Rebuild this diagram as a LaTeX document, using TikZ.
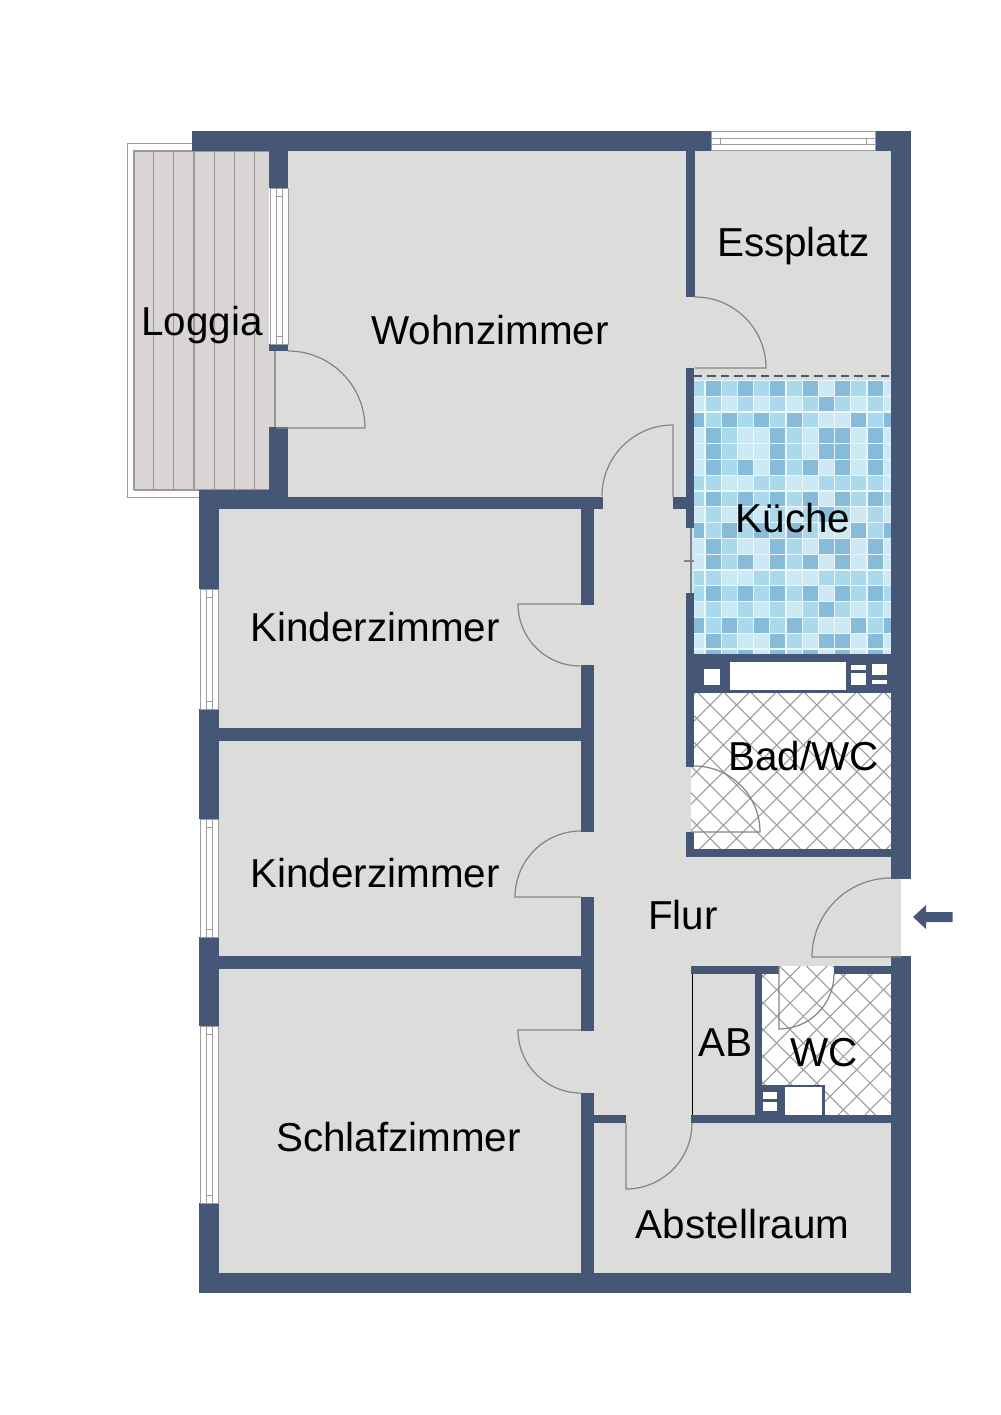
\documentclass[tikz,border=0pt]{standalone}
\usepackage{fontspec}
\setmainfont{Liberation Sans}
\usepackage{xcolor}
\usepackage{tikz}
\definecolor{wallblue}{HTML}{465676}
\definecolor{floorgray}{HTML}{DCDCDA}
\definecolor{deckgray}{HTML}{DAD5D5}
\definecolor{plankgray}{HTML}{9C9696}
\definecolor{doorgray}{HTML}{858585}
\definecolor{hatchgray}{HTML}{9A9A9A}
\definecolor{tileD}{HTML}{86BCD9}
\definecolor{tileM}{HTML}{ABD9EC}
\definecolor{tileL}{HTML}{CDE9F3}
\tikzset{
  wall/.style = {fill = wallblue},
  floorzone/.style = {fill = floorgray},
  door/.style = {draw = doorgray, line width = 0.7pt},
  frameline/.style = {draw = doorgray!80, line width = 0.45pt},
  hatch/.style = {draw = hatchgray, line width = 0.6pt},
  room/.style = {font = \fontsize{23}{27}\selectfont, anchor = base, inner sep = 0pt, text = black}
}

\begin{document}
\begin{tikzpicture}[x = 0.02cm, y = -0.02cm]
\useasboundingbox (0, 0) rectangle (1000, 1415);
\draw [frameline, fill = white] (192, 143) -- (127, 143) -- (127, 497) -- (199, 497);
\fill [deckgray] (134, 151) rectangle (269, 490);
\fill [deckgray] (269, 351) rectangle (276, 427);
\draw [plankgray, line width = 0.6pt] (134, 490) -- (134, 151) -- (269, 151);
\draw [plankgray, line width = 0.6pt] (134, 490) -- (269, 490);
\draw [plankgray, line width = 0.8pt] (275, 351) -- (275, 427);
\foreach \px in {153.5, 173.5, 194, 214.5, 234.5, 254.5}
  \draw [plankgray, line width = 0.7pt] (\px, 151) -- (\px, 490);
\fill [floorzone] (288, 151) rectangle (891, 509);
\fill [floorzone] (218, 509) rectangle (891, 1273);
\fill [floorzone] (276, 351) rectangle (288, 427);
\fill [floorzone] (891, 879) rectangle (901, 956);
\begin{scope}
\clip (694, 380) rectangle (891, 654);
\fill [tileL!35!white] (688, 380) rectangle (891, 654);
\foreach \rowpat [count = \ry from 0] in {
  {M,D,M,D,M,D,M,D,L,D,M,D,L},
  {L,M,L,M,L,M,L,M,D,M,L,M,L},
  {D,M,D,M,D,M,D,M,L,L,D,M,D},
  {L,D,M,L,L,D,M,L,D,D,L,D,L},
  {L,D,M,L,L,D,M,L,D,D,L,D,L},
  {L,D,M,D,L,D,M,D,L,D,L,D,L},
  {M,M,L,L,M,M,L,L,M,M,M,M,L},
  {M,D,M,D,M,D,M,D,L,D,M,D,M},
  {L,M,L,M,L,M,L,M,D,M,L,M,L},
  {D,M,D,M,D,M,D,M,L,L,D,M,D},
  {L,D,M,L,L,D,M,L,D,D,L,D,L},
  {L,D,M,D,L,D,M,D,L,D,L,D,L},
  {M,M,L,L,M,M,L,L,M,M,M,M,L},
  {M,D,M,D,M,D,M,D,L,D,M,D,M},
  {L,M,L,M,L,M,L,M,D,M,L,M,L},
  {D,M,D,M,D,M,D,M,L,L,D,M,D},
  {L,D,M,L,L,D,M,L,D,D,L,D,L},
  {L,D,M,D,L,D,M,D,L,D,L,D,L}}
  \foreach \tone [count = \cx from 0] in \rowpat
    \fill [fill = tile\tone] (689.3 + 16.2 * \cx, 381 + 15.8 * \ry) rectangle ++ (15, 14.6);
\end{scope}
\fill [tileL] (691, 528) rectangle (694, 593);
\fill [white] (691, 693) rectangle (891, 849);
\begin{scope}
\clip (694, 693) rectangle (891, 849) (691, 767) rectangle (694, 832);
\foreach \hx in {0, 1, ..., 16} {
  \draw [hatch] (484.4 + 26.7 * \hx, 693) -- ++ (156, 156);
  \draw [hatch] (668.6 + 26.7 * \hx, 693) -- ++ (-156, 156);
}
\end{scope}
\fill [white] (762, 974) rectangle (891, 1115);
\fill [white] (779, 966) rectangle (834, 974);
\begin{scope}
\clip (762, 974) rectangle (891, 1115) (779, 966) rectangle (834, 974);
\foreach \hx in {0, 1, ..., 12} {
  \draw [hatch] (592.8 + 26.7 * \hx, 966) -- ++ (149, 149);
  \draw [hatch] (773.6 + 26.7 * \hx, 966) -- ++ (-149, 149);
}
\end{scope}
\foreach \xa/\ya/\xb/\yb in {
  192/131/711/151, 875/131/911/151, 891/131/911/879, 891/956/911/1293,
  199/1273/911/1293, 199/490/218.5/589, 199/709/218.5/819, 199/937/218.5/1026,
  199/1203/218.5/1293, 269/151/288/188, 269/344/288/351.5, 269/427/288/509,
  199/490/288/509, 288/497/603/509, 673/497/694/509,
  581/509/594/604.5, 581/665/594/832, 581/897/594/1031, 581/1093/594/1273,
  218/728/581/741, 218/956/581/969,
  686/151/695/297, 686/368/694/528, 686/593/694/767, 686/832/694/857,
  686/849/891/857, 686/654/891/693,
  691/966/779/974, 834/966/891/974, 755/966/762/1115, 691/1115/891/1123,
  594/1115/626/1123, 762/1085/825/1115}
  \fill [wall] (\xa, \ya) rectangle (\xb, \yb);
\foreach \xa/\ya/\xb/\yb in {
  704/669/720/685, 730/662/846/690, 851/665/866/670, 851/673/866/685,
  872/664/887/675, 872/680/887/684, 785/1087/822/1115, 763/1092/777/1099,
  763/1102/777/1111}
  \fill [white] (\xa, \ya) rectangle (\xb, \yb);
\foreach \xa/\ya/\yb in {200/589/709, 200/819/937, 200/1026/1203, 270/188/344} {
  \draw [frameline, fill = white] (\xa, \ya) rectangle (\xa + 18, \yb);
  \draw [frameline] (\xa + 6, \ya) -- (\xa + 6, \yb);
  \draw [frameline] (\xa + 12, \ya) -- (\xa + 12, \yb);
  \draw [frameline] (\xa + 6, \ya + 8) -- (\xa + 12, \ya + 8);
  \draw [frameline] (\xa + 6, \yb - 8) -- (\xa + 12, \yb - 8);
}
\draw [frameline, fill = white] (711, 131.5) rectangle (875, 150);
\draw [frameline] (711, 138) -- (875, 138);
\draw [frameline] (711, 144) -- (875, 144);
\draw [frameline] (720, 138) -- (720, 144);
\draw [frameline] (866, 138) -- (866, 144);
\draw [wallblue, line width = 0.6pt, dash pattern = on 4.8pt off 2.8pt] (694, 376) -- (889, 376);
\draw [door] (691, 528) -- (691, 593);
\draw [door] (684, 561) -- (694, 561);
\draw [black, line width = 0.5pt] (692, 974) -- (692, 1115);
\draw [door] (276, 428) -- (365, 428) arc (0:-90:77);
\draw [door] (695, 368) -- (766, 368) arc (0:-90:71);
\draw [door] (673, 497) -- (673, 425) arc (-90:-180:71);
\draw [door] (581, 604) -- (518, 604) arc (180:90:62);
\draw [door] (581, 897) -- (515, 897) arc (180:270:66);
\draw [door] (581, 1030) -- (518, 1030) arc (180:90:63);
\draw [door] (901, 957) -- (812, 957) arc (180:270:79);
\draw [door] (691, 832) -- (760, 832) arc (0:-90:66);
\draw [door] (779, 966) -- (779, 1029) arc (90:0:55);
\draw [door] (626, 1123) -- (626, 1189) arc (90:0:66);
\fill [wall] (913, 917) -- (926, 905) -- (926, 912) -- (952.5, 912) -- (952.5, 922) -- (926, 922) -- (926, 929) -- cycle;
\node [room] (loggia) at (202, 336) {Loggia};
\node [room] (wohnzimmer) at (490, 345) {Wohnzimmer};
\node [room] (essplatz) at (793.5, 257) {Essplatz};
\node [room] (kueche) at (793, 532) {Küche};
\node [room] (kind1) at (375, 641) {Kinderzimmer};
\node [room] (kind2) at (375, 887) {Kinderzimmer};
\node [room] (schlaf) at (398.5, 1151) {Schlafzimmer};
\node [room] (bad) at (803.5, 770) {Bad/WC};
\node [room] (flur) at (683, 929) {Flur};
\node [room] (ab) at (725, 1056) {AB};
\node [room] (wc) at (824.5, 1066) {WC};
\node [room] (abstell) at (742.5, 1238) {Abstellraum};
\end{tikzpicture}
\end{document}
